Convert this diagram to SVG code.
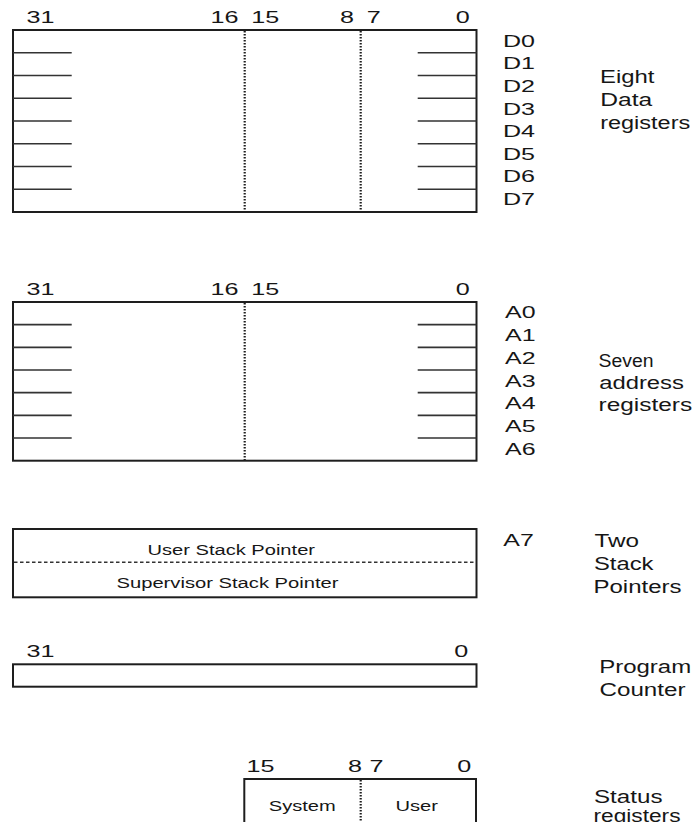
<svg xmlns="http://www.w3.org/2000/svg" width="695" height="822" viewBox="0 0 695 822">
<style>
  .box{fill:#fff;stroke:#1e1e1e;stroke-width:2}
  .tick{stroke:#333;stroke-width:1.7;fill:none}
  .dot{stroke:#1e1e1e;stroke-width:2.2;stroke-dasharray:1.6 1.4;fill:none}
  .dash{stroke:#333;stroke-width:1.5;stroke-dasharray:3.5 2.5;fill:none}
  text{font-family:"Liberation Sans",Arial,sans-serif;fill:#161616}
  .num{font-size:17px}
  .reg{font-size:16px}
  .lbl{font-size:17.5px}
  .in{font-size:15.5px}
</style>
<rect width="695" height="822" fill="#fff"/>

<g id="data-registers">
  <rect class="box" x="13" y="30" width="463.5" height="182"/>
  <line class="dot" x1="244.7" y1="31" x2="244.7" y2="211"/>
  <line class="dot" x1="360.7" y1="31" x2="360.7" y2="211"/>
  <path class="tick" d="M13,52.75H71.7M13,75.5H71.7M13,98.25H71.7M13,121H71.7M13,143.75H71.7M13,166.5H71.7M13,189.25H71.7"/>
  <path class="tick" d="M417.7,52.75H476.5M417.7,75.5H476.5M417.7,98.25H476.5M417.7,121H476.5M417.7,143.75H476.5M417.7,166.5H476.5M417.7,189.25H476.5"/>
  <text class="num" x="26.6" y="23.3" textLength="28" lengthAdjust="spacingAndGlyphs">31</text>
  <text class="num" x="210.6" y="23.3" textLength="28" lengthAdjust="spacingAndGlyphs">16</text>
  <text class="num" x="251.3" y="23.3" textLength="28" lengthAdjust="spacingAndGlyphs">15</text>
  <text class="num" x="340" y="23.3" textLength="14" lengthAdjust="spacingAndGlyphs">8</text>
  <text class="num" x="366.7" y="23.3" textLength="14" lengthAdjust="spacingAndGlyphs">7</text>
  <text class="num" x="455.7" y="23.3" textLength="14" lengthAdjust="spacingAndGlyphs">0</text>
  <text class="reg" x="503" y="46.7" textLength="32" lengthAdjust="spacingAndGlyphs">D0</text>
  <text class="reg" x="503" y="69.3" textLength="32" lengthAdjust="spacingAndGlyphs">D1</text>
  <text class="reg" x="503" y="91.9" textLength="32" lengthAdjust="spacingAndGlyphs">D2</text>
  <text class="reg" x="503" y="114.5" textLength="32" lengthAdjust="spacingAndGlyphs">D3</text>
  <text class="reg" x="503" y="137.1" textLength="32" lengthAdjust="spacingAndGlyphs">D4</text>
  <text class="reg" x="503" y="159.7" textLength="32" lengthAdjust="spacingAndGlyphs">D5</text>
  <text class="reg" x="503" y="182.3" textLength="32" lengthAdjust="spacingAndGlyphs">D6</text>
  <text class="reg" x="503" y="204.9" textLength="32" lengthAdjust="spacingAndGlyphs">D7</text>
  <text class="lbl" x="600" y="83.3" textLength="54.5" lengthAdjust="spacingAndGlyphs">Eight</text>
  <text class="lbl" x="600.2" y="106" textLength="52" lengthAdjust="spacingAndGlyphs">Data</text>
  <text class="lbl" x="600.2" y="128.5" textLength="90" lengthAdjust="spacingAndGlyphs">registers</text>
</g>

<g id="address-registers">
  <rect class="box" x="13" y="302" width="463.5" height="158.7"/>
  <line class="dot" x1="244.7" y1="303" x2="244.7" y2="460"/>
  <path class="tick" d="M13,324.7H71.7M13,347.3H71.7M13,370H71.7M13,392.7H71.7M13,415.3H71.7M13,438H71.7"/>
  <path class="tick" d="M417.7,324.7H476.5M417.7,347.3H476.5M417.7,370H476.5M417.7,392.7H476.5M417.7,415.3H476.5M417.7,438H476.5"/>
  <text class="num" x="26.6" y="295" textLength="28" lengthAdjust="spacingAndGlyphs">31</text>
  <text class="num" x="210.6" y="295" textLength="28" lengthAdjust="spacingAndGlyphs">16</text>
  <text class="num" x="251.3" y="295" textLength="28" lengthAdjust="spacingAndGlyphs">15</text>
  <text class="num" x="455.7" y="295" textLength="14" lengthAdjust="spacingAndGlyphs">0</text>
  <text class="reg" x="505" y="318.3" textLength="30.5" lengthAdjust="spacingAndGlyphs">A0</text>
  <text class="reg" x="505" y="341" textLength="30.5" lengthAdjust="spacingAndGlyphs">A1</text>
  <text class="reg" x="505" y="363.8" textLength="30.5" lengthAdjust="spacingAndGlyphs">A2</text>
  <text class="reg" x="505" y="386.5" textLength="30.5" lengthAdjust="spacingAndGlyphs">A3</text>
  <text class="reg" x="505" y="409.3" textLength="30.5" lengthAdjust="spacingAndGlyphs">A4</text>
  <text class="reg" x="505" y="432" textLength="30.5" lengthAdjust="spacingAndGlyphs">A5</text>
  <text class="reg" x="505" y="454.8" textLength="30.5" lengthAdjust="spacingAndGlyphs">A6</text>
  <text class="lbl" x="598.5" y="367" textLength="55" lengthAdjust="spacingAndGlyphs">Seven</text>
  <text class="lbl" x="599.2" y="389" textLength="84.7" lengthAdjust="spacingAndGlyphs">address</text>
  <text class="lbl" x="598.5" y="411" textLength="93.7" lengthAdjust="spacingAndGlyphs">registers</text>
</g>

<g id="stack-pointers">
  <rect class="box" x="13" y="529" width="463.5" height="68.3"/>
  <line class="dash" x1="14" y1="562.3" x2="475.5" y2="562.3"/>
  <text class="in" x="147.5" y="555" textLength="167.5" lengthAdjust="spacingAndGlyphs">User Stack Pointer</text>
  <text class="in" x="116.5" y="588.3" textLength="222" lengthAdjust="spacingAndGlyphs">Supervisor Stack Pointer</text>
  <text class="reg" x="503.3" y="546" textLength="30.5" lengthAdjust="spacingAndGlyphs">A7</text>
  <text class="lbl" x="594.5" y="546.7" textLength="44.5" lengthAdjust="spacingAndGlyphs">Two</text>
  <text class="lbl" x="594" y="570" textLength="59.5" lengthAdjust="spacingAndGlyphs">Stack</text>
  <text class="lbl" x="593.5" y="592.7" textLength="88" lengthAdjust="spacingAndGlyphs">Pointers</text>
</g>

<g id="program-counter">
  <rect class="box" x="13" y="664.3" width="463.5" height="22.4"/>
  <text class="num" x="26.6" y="656.7" textLength="28" lengthAdjust="spacingAndGlyphs">31</text>
  <text class="num" x="454.3" y="656.7" textLength="14" lengthAdjust="spacingAndGlyphs">0</text>
  <text class="lbl" x="599.2" y="673.3" textLength="92" lengthAdjust="spacingAndGlyphs">Program</text>
  <text class="lbl" x="599.5" y="695.5" textLength="86" lengthAdjust="spacingAndGlyphs">Counter</text>
</g>

<g id="status-register">
  <path class="box" d="M244.3,822V779H476V822"/>
  <line class="dot" x1="360.7" y1="780" x2="360.7" y2="822"/>
  <text class="num" x="246.6" y="772.3" textLength="28" lengthAdjust="spacingAndGlyphs">15</text>
  <text class="num" x="348" y="772.3" textLength="14" lengthAdjust="spacingAndGlyphs">8</text>
  <text class="num" x="369.4" y="772.3" textLength="14" lengthAdjust="spacingAndGlyphs">7</text>
  <text class="num" x="457.3" y="772.3" textLength="14" lengthAdjust="spacingAndGlyphs">0</text>
  <text class="in" x="268.8" y="811" textLength="67" lengthAdjust="spacingAndGlyphs">System</text>
  <text class="in" x="395.5" y="811" textLength="42.5" lengthAdjust="spacingAndGlyphs">User</text>
  <text class="lbl" x="594" y="803" textLength="68.5" lengthAdjust="spacingAndGlyphs">Status</text>
  <text class="lbl" x="593.5" y="821.5" textLength="87" lengthAdjust="spacingAndGlyphs">registers</text>
</g>
</svg>
